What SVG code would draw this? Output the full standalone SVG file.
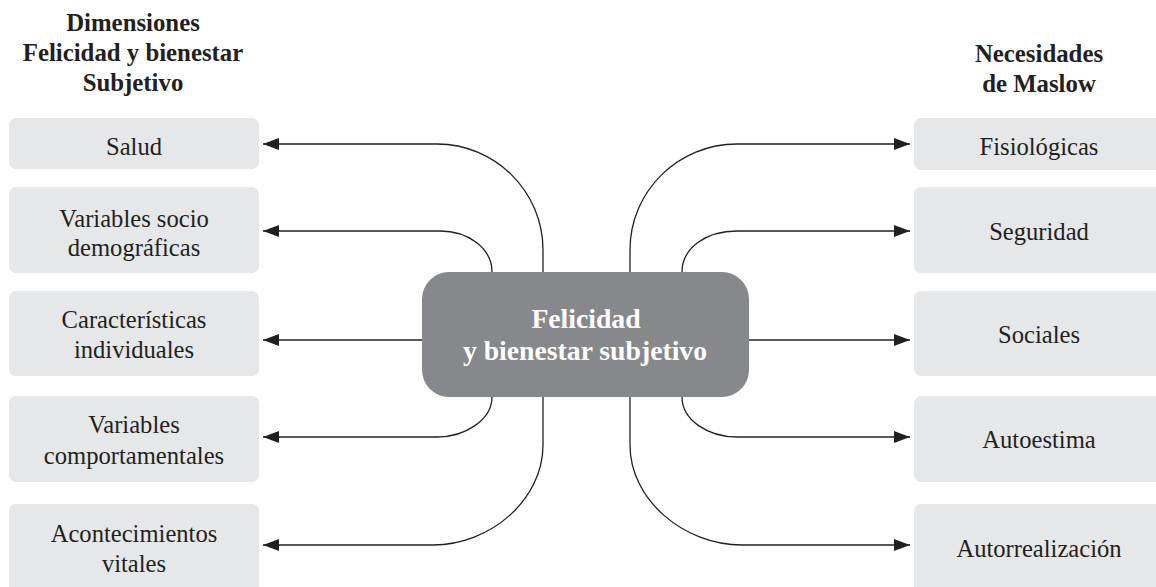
<svg xmlns="http://www.w3.org/2000/svg" width="1156" height="587" viewBox="0 0 1156 587">
<style>
.box{fill:#e6e7e8}
.lbl{font-family:"Liberation Serif","Times New Roman",serif;font-size:24.6px;fill:#231f20;text-anchor:middle}
.hdr{font-family:"Liberation Serif","Times New Roman",serif;font-size:24.8px;font-weight:bold;fill:#231f20;text-anchor:middle}
.ctr{font-family:"Liberation Serif","Times New Roman",serif;font-size:27.7px;font-weight:bold;fill:#ffffff;text-anchor:middle}
.con{fill:none;stroke:#231f20;stroke-width:1.3}
</style>
<defs>
<marker id="ah" viewBox="0 0 16 12" refX="16" refY="6" markerWidth="16" markerHeight="12" markerUnits="userSpaceOnUse" orient="auto">
<path d="M0,0 L16,6 L0,12 Z" fill="#231f20"/>
</marker>
</defs>
<rect width="1156" height="587" fill="#ffffff"/>
<g id="header-left">
<text class="hdr" x="133" y="31">Dimensiones</text>
<text class="hdr" x="133" y="61">Felicidad y bienestar</text>
<text class="hdr" x="133" y="91">Subjetivo</text>
</g>
<g id="header-right">
<text class="hdr" x="1039" y="62">Necesidades</text>
<text class="hdr" x="1039" y="92">de Maslow</text>
</g>
<g id="connectors">
<path class="con" marker-end="url(#ah)" d="M543,272 L543,250 C543,191.7 495.3,144 437,144 L263,144"/>
<path class="con" marker-end="url(#ah)" d="M492,272 C492,248 468,231 440,231 L263,231"/>
<path class="con" marker-end="url(#ah)" d="M422,340 L263,340"/>
<path class="con" marker-end="url(#ah)" d="M492,397 C492,420 465,437 437,437 L263,437"/>
<path class="con" marker-end="url(#ah)" d="M543,397 L543,445 C543,500 490,545 433,545 L263,545"/>
<path class="con" marker-end="url(#ah)" d="M630,272 L630,250 C630,191.7 677.7,144 737,144 L910,144"/>
<path class="con" marker-end="url(#ah)" d="M682,272 C682,248 706,231 737,231 L910,231"/>
<path class="con" marker-end="url(#ah)" d="M749,340 L910,340"/>
<path class="con" marker-end="url(#ah)" d="M682,397 C682,420 708,437 737,437 L910,437"/>
<path class="con" marker-end="url(#ah)" d="M630,397 L630,445 C630,500 684,545 742,545 L910,545"/>
</g>
<g id="center">
<rect x="422" y="272" width="327" height="125" rx="27" fill="#87888b"/>
<text class="ctr" x="586" y="328">Felicidad</text>
<text class="ctr" x="585" y="360">y bienestar subjetivo</text>
</g>
<g id="salud">
<rect class="box" x="9" y="118" width="250" height="51" rx="7"/>
<text class="lbl" x="134" y="155">Salud</text>
</g>
<g id="sociodemograficas">
<rect class="box" x="9" y="187" width="250" height="86" rx="7"/>
<text class="lbl" x="134" y="227">Variables socio</text>
<text class="lbl" x="134" y="256">demográficas</text>
</g>
<g id="caracteristicas">
<rect class="box" x="9" y="291" width="250" height="85" rx="7"/>
<text class="lbl" x="134" y="328">Características</text>
<text class="lbl" x="134" y="358">individuales</text>
</g>
<g id="comportamentales">
<rect class="box" x="9" y="396" width="250" height="86" rx="7"/>
<text class="lbl" x="134" y="433">Variables</text>
<text class="lbl" x="134" y="464">comportamentales</text>
</g>
<g id="acontecimientos">
<rect class="box" x="9" y="504" width="250" height="90" rx="7"/>
<text class="lbl" x="134" y="542">Acontecimientos</text>
<text class="lbl" x="134" y="572">vitales</text>
</g>
<g id="fisiologicas">
<rect class="box" x="914" y="118" width="250" height="52" rx="7"/>
<text class="lbl" x="1039" y="155">Fisiológicas</text>
</g>
<g id="seguridad">
<rect class="box" x="914" y="187" width="250" height="86" rx="7"/>
<text class="lbl" x="1039" y="240">Seguridad</text>
</g>
<g id="sociales">
<rect class="box" x="914" y="291" width="250" height="85" rx="7"/>
<text class="lbl" x="1039" y="343">Sociales</text>
</g>
<g id="autoestima">
<rect class="box" x="914" y="396" width="250" height="86" rx="7"/>
<text class="lbl" x="1039" y="448">Autoestima</text>
</g>
<g id="autorrealizacion">
<rect class="box" x="914" y="504" width="250" height="90" rx="7"/>
<text class="lbl" x="1039" y="557">Autorrealización</text>
</g>
</svg>
